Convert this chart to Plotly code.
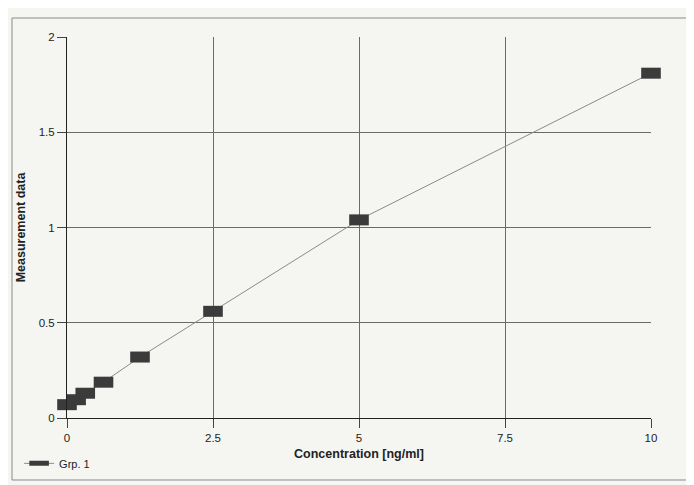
import plotly.graph_objects as go

concentration = [0, 0.156, 0.3125, 0.625, 1.25, 2.5, 5, 10]
measurement = [0.07, 0.096, 0.13, 0.188, 0.32, 0.56, 1.04, 1.81]
series_name = "Grp. 1"
x_ticks = [0, 2.5, 5, 7.5, 10]
y_ticks = [0, 0.5, 1, 1.5, 2]

bg = "#f5f6f2"
grid = "#6a6a6a"

fig = go.Figure()
fig.add_trace(go.Scatter(
    x=concentration, y=measurement, name=series_name,
    mode="lines+markers",
    line=dict(color="#8a8a8a", width=1),
    marker=dict(symbol="line-ew", size=14,
                line=dict(color="#3b3b3b", width=11)),
    cliponaxis=False,
))

fig.update_layout(
    width=686, height=477,
    margin=dict(l=59, r=43, t=29, b=67, autoexpand=False),
    paper_bgcolor=bg, plot_bgcolor=bg,
    font=dict(family="Liberation Sans, Arial, sans-serif", size=11.5, color="#222"),
    showlegend=True,
    legend=dict(x=-0.082, y=-0.081, xanchor="left", yanchor="top",
                bgcolor="rgba(0,0,0,0)", font=dict(size=11)),
    shapes=[dict(type="rect", xref="paper", yref="paper",
                 x0=-0.0942, x1=1.065, y0=-0.1627, y1=1.0499,
                 line=dict(color="#8a8a8a", width=1), layer="below")],
)
fig.update_xaxes(
    range=[0, 10], tickvals=x_ticks, ticktext=[str(v) for v in x_ticks],
    showgrid=True, gridcolor=grid, gridwidth=1,
    zeroline=False, showline=True, linecolor="#222", linewidth=1,
    ticks="outside", ticklen=9, tickcolor="#444",
    title=dict(text="<b>Concentration [ng/ml]</b>", font=dict(size=12.5), standoff=6),
)
fig.update_yaxes(
    range=[0, 2], tickvals=y_ticks, ticktext=[str(v) for v in y_ticks],
    showgrid=True, gridcolor=grid, gridwidth=1,
    zeroline=False, showline=True, linecolor="#222", linewidth=1,
    ticks="outside", ticklen=9, tickcolor="#444",
    title=dict(text="<b>Measurement data</b>", font=dict(size=12.5), standoff=10),
)

fig.write_html("out.html")
